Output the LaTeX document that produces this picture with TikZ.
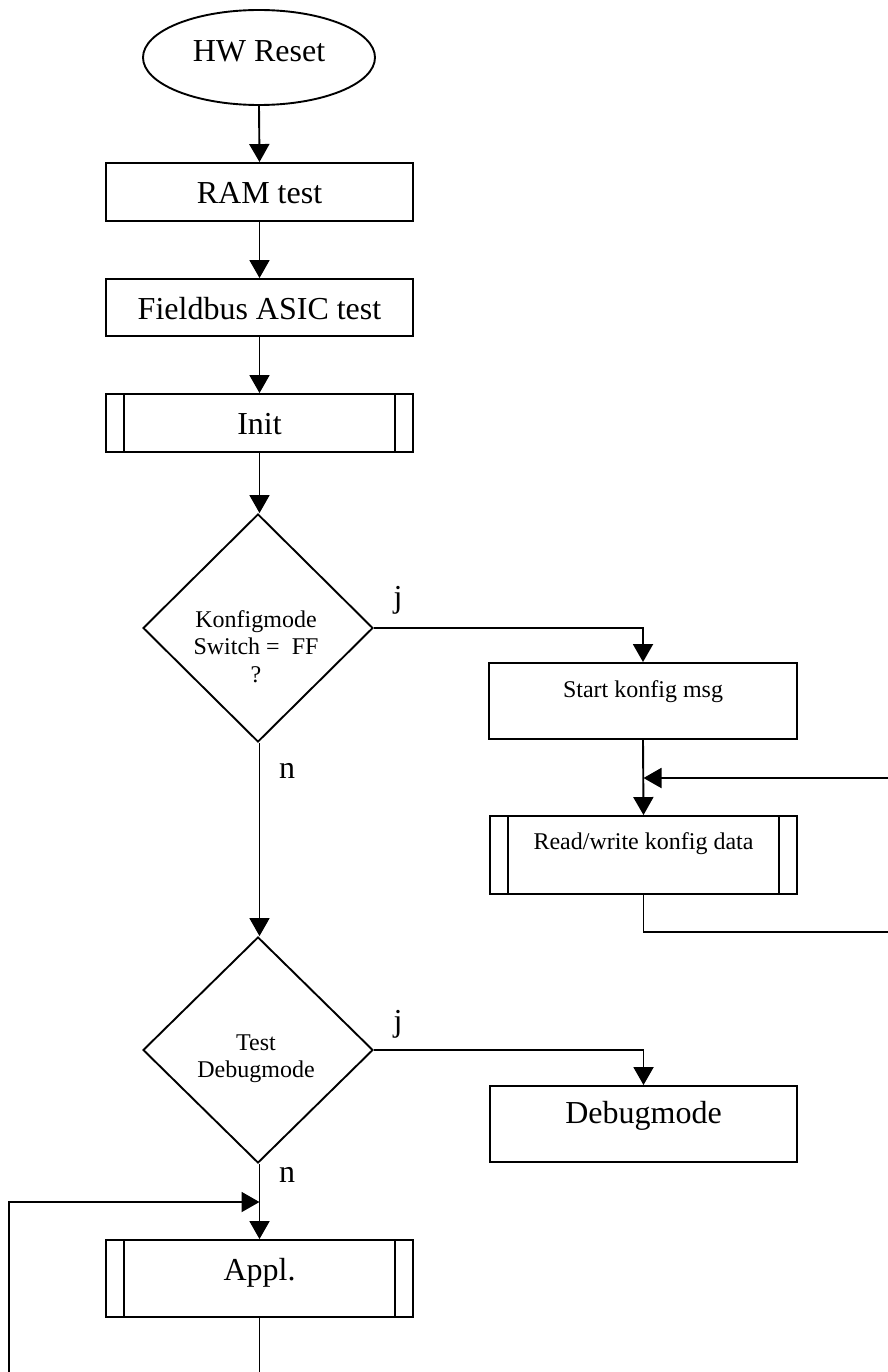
\documentclass[tikz,border=0pt]{standalone}
\usepackage{fontspec}
\setmainfont{Liberation Serif}
\usetikzlibrary{arrows.meta,shapes.geometric}
\begin{document}
\begin{tikzpicture}[x=1pt,y=-1pt,
  line width=1.9pt,
  conn/.style={-{Triangle[width=20pt,length=18pt]}},
  big/.style={font=\fontsize{32}{38}\selectfont, inner sep=0pt, anchor=base},
  small/.style={font=\fontsize{24}{27}\selectfont, inner sep=0pt, anchor=base},
  box/.style={draw, rectangle, inner sep=0pt, minimum width=307pt},
  dia/.style={draw, diamond, inner sep=0pt, minimum width=230pt, minimum height=228pt},
]
\useasboundingbox (0,0) rectangle (887,1372);

% shapes
\node[draw, ellipse, inner sep=0pt, minimum width=232pt, minimum height=95pt] (reset) at (259,57.5) {};
\node[box, minimum height=58pt] (ram) at (259.5,192) {};
\node[box, minimum height=57pt] (fb) at (259.5,307.5) {};
\node[box, minimum height=58pt] (init) at (259.5,423) {};
\node[dia] (d1) at (258,628) {};
\node[box, minimum width=308pt, minimum height=76pt] (start) at (643,701) {};
\node[box, minimum height=78pt] (rw) at (643.5,855) {};
\node[dia, minimum height=226pt] (d2) at (258,1050) {};
\node[box, minimum height=76pt] (dbg) at (643.5,1124) {};
\node[box, minimum height=77pt] (appl) at (259.5,1278.5) {};

% side bars of predefined processes
\foreach \n in {init,rw,appl}{
  \draw ([xshift=19pt]\n.north west) -- ([xshift=19pt]\n.south west);
  \draw ([xshift=-19pt]\n.north east) -- ([xshift=-19pt]\n.south east);
}

% texts
\node[big] (treset) at (259,62) {HW Reset};
\node[big] (tram) at (259.5,204) {RAM test};
\node[big] (tfb) at (259.5,319) {Fieldbus ASIC test};
\node[big] (tinit) at (259.5,434) {Init};
\node[small] (td1a) at (256,627) {Konfigmode};
\node[small] (td1b) at (256,654) {Switch =\ \ FF};
\node[small] (td1c) at (256,682) {?};
\node[small] (tstart) at (643,697) {Start konfig msg};
\node[small] (trw) at (643.5,849) {Read/write konfig data};
\node[small] (td2a) at (256,1050) {Test};
\node[small] (td2b) at (256,1077) {Debugmode};
\node[big] (tdbg) at (643.5,1123) {Debugmode};
\node[big] (tappl) at (259.5,1280) {Appl.};
\node[big] (j1) at (398,607) {j};
\node[big] (n1) at (287,778) {n};
\node[big] (j2) at (398,1031) {j};
\node[big] (n2) at (287,1182) {n};

% connectors
\draw[conn] (reset.south) -- (ram.north);
\draw[conn] (ram.south) -- (fb.north);
\draw[conn] (fb.south) -- (init.north);
\draw[conn] (init.south) -- (init.south |- d1.north);
\draw[conn] (d1.east) -| (start.north);
\draw[conn] (start.south) -- (rw.north);
\coordinate (rwb) at (643.5,932);
\coordinate (rwr) at (889,932);
\coordinate (rwt) at (889,778);
\coordinate (rwin) at (643.5,778);
\draw[conn] (rw.south) -- (rwb) -- (rwr) -- (rwt) -- (rwin);
\draw[conn] (d1.south -| init.south) -- (init.south |- d2.north);
\draw[conn] (d2.east) -| (dbg.north);
\draw[conn] (d2.south -| appl.north) -- (appl.north);
\coordinate (ab) at (259.5,1380);
\coordinate (al) at (9,1380);
\coordinate (at) at (9,1202);
\coordinate (ain) at (259.5,1202);
\draw[conn] (appl.south) -- (ab) -- (al) -- (at) -- (ain);
\end{tikzpicture}
\end{document}
